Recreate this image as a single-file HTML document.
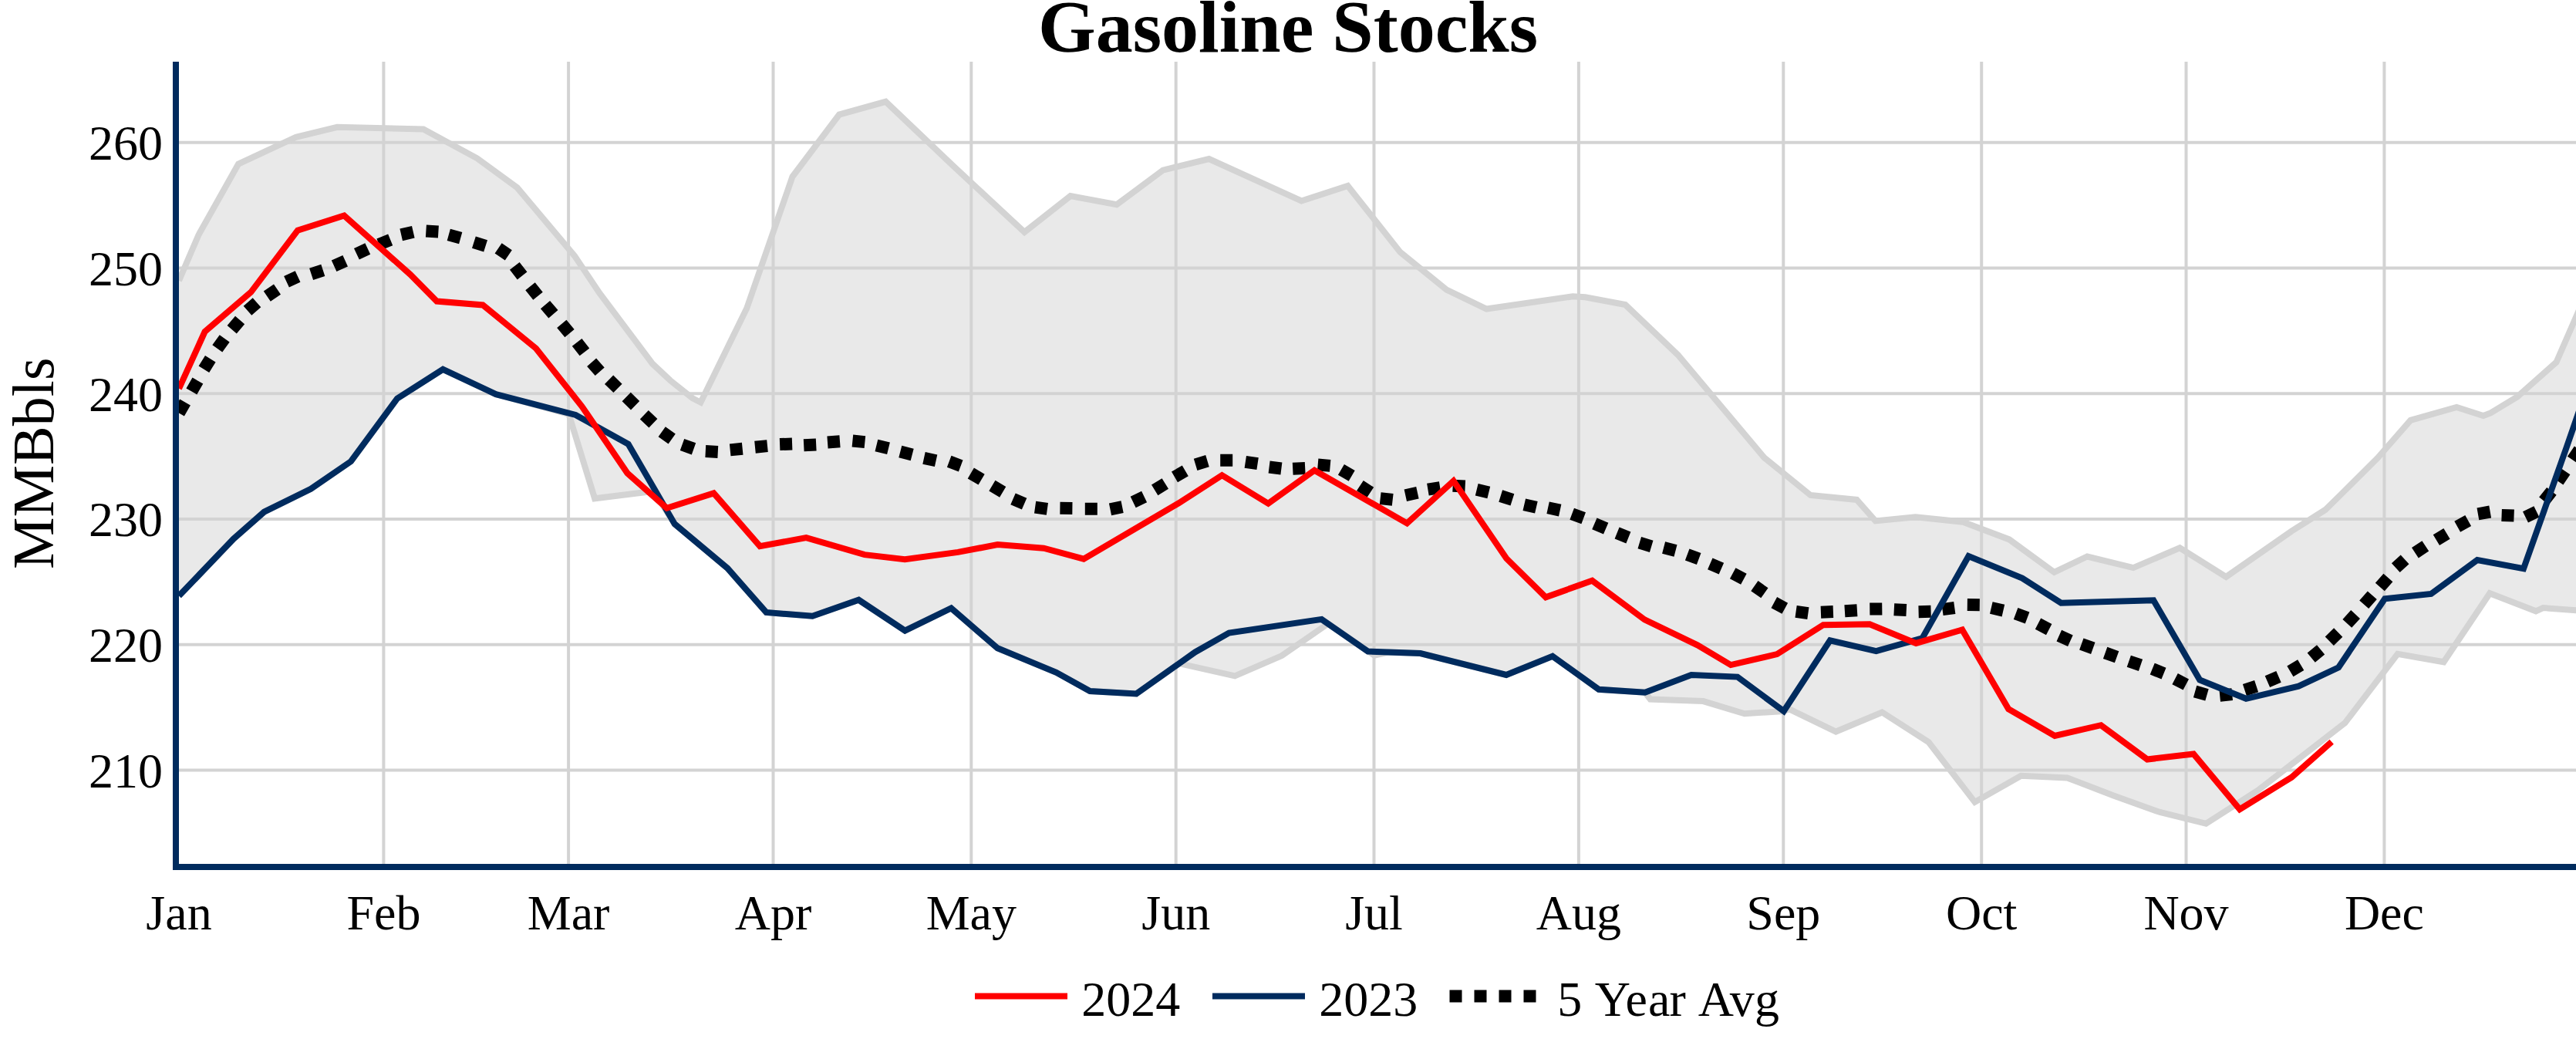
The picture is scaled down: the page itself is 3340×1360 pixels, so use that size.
<!DOCTYPE html>
<html lang="en"><head><meta charset="utf-8"><title>Gasoline Stocks</title>
<style>html,body{margin:0;padding:0;background:#fff;}svg{display:block;}text{font-kerning:none;font-family:"Liberation Serif","Times New Roman",Times,serif;fill:#000;}</style></head><body>
<svg width="3340" height="1360" viewBox="0 0 3340 1360">
<rect x="0" y="0" width="3340" height="1360" fill="#fff"/>
<defs><clipPath id="plot"><rect x="232" y="80" width="3108" height="1040"/></clipPath></defs>
<g stroke="#D3D3D3" stroke-width="4" fill="none">
<line x1="497.4" y1="80" x2="497.4" y2="1120"/>
<line x1="737.1" y1="80" x2="737.1" y2="1120"/>
<line x1="1002.5" y1="80" x2="1002.5" y2="1120"/>
<line x1="1259.3" y1="80" x2="1259.3" y2="1120"/>
<line x1="1524.7" y1="80" x2="1524.7" y2="1120"/>
<line x1="1781.5" y1="80" x2="1781.5" y2="1120"/>
<line x1="2046.9" y1="80" x2="2046.9" y2="1120"/>
<line x1="2312.3" y1="80" x2="2312.3" y2="1120"/>
<line x1="2569.2" y1="80" x2="2569.2" y2="1120"/>
<line x1="2834.5" y1="80" x2="2834.5" y2="1120"/>
<line x1="3091.4" y1="80" x2="3091.4" y2="1120"/>
<line x1="232" y1="998.4" x2="3340" y2="998.4"/>
<line x1="232" y1="835.7" x2="3340" y2="835.7"/>
<line x1="232" y1="672.9" x2="3340" y2="672.9"/>
<line x1="232" y1="510.2" x2="3340" y2="510.2"/>
<line x1="232" y1="347.4" x2="3340" y2="347.4"/>
<line x1="232" y1="184.7" x2="3340" y2="184.7"/>
</g>
<g clip-path="url(#plot)" fill="none" stroke-linejoin="miter" stroke-miterlimit="4">
<polygon points="232.0,363.9 257.3,304.9 309.1,212.5 383.7,177.8 437.2,164.8 549.0,167.4 618.7,205.3 670.6,243.3 745.1,331.8 777.3,380.0 845.9,471.5 868.8,493.0 897.8,516.2 908.5,521.7 968.2,399.8 1027.5,229.0 1088.1,148.6 1148.4,131.8 1234.9,214.1 1328.3,301.0 1387.9,254.0 1447.9,265.3 1507.9,220.6 1567.6,206.0 1687.5,260.5 1747.5,241.0 1815.5,326.9 1875.5,375.6 1927.4,400.5 2039.2,384.3 2055.4,385.3 2107.3,395.0 2175.5,460.0 2287.5,593.4 2347.5,642.0 2407.4,647.9 2431.7,675.4 2483.6,670.2 2545.2,676.7 2605.2,699.4 2663.5,741.9 2706.3,721.5 2766.0,736.1 2826.3,710.3 2886.3,747.9 2971.2,688.6 3014.9,661.0 3036.3,640.0 3082.5,594.1 3125.5,544.8 3185.2,528.0 3219.8,539.1 3229.3,535.4 3263.9,514.4 3314.5,469.5 3340.0,411.0 3380.0,320.0 3380.0,794.0 3340.0,791.2 3297.4,788.1 3288.0,792.3 3228.2,769.2 3168.5,858.3 3108.7,847.9 3040.5,937.2 2927.6,1024.7 2860.3,1067.8 2800.5,1053.0 2740.4,1031.4 2680.4,1008.4 2620.4,1005.8 2560.5,1039.9 2500.5,962.1 2440.3,923.5 2380.4,948.5 2320.0,919.3 2312.8,922.0 2261.9,925.3 2208.4,909.1 2139.7,906.5 2132.9,897.7 2072.9,893.8 2013.0,850.8 1953.0,875.0 1841.7,847.0 1800.0,845.5 1782.0,849.8 1722.0,808.5 1662.0,850.1 1601.1,876.3 1529.0,860.2 1473.3,899.5 1413.2,896.1 1369.5,871.8 1293.3,840.3 1233.3,788.5 1173.4,817.6 1113.4,777.8 1053.4,798.8 993.5,794.0 943.2,736.6 874.8,679.4 858.0,653.0 842.0,637.5 771.1,646.3 737.5,537.0 643.0,511.1 574.3,478.8 515.0,516.7 455.0,598.2 403.1,633.9 342.5,663.7 302.7,698.7 232.0,772.6" fill="#D3D3D3" fill-opacity="0.5" stroke="none"/>
<polyline points="232.0,772.6 302.7,698.7 342.5,663.7 403.1,633.9 455.0,598.2 515.0,516.7 574.3,478.8 643.0,511.1 737.5,537.0 771.1,646.3 842.0,637.5 858.0,653.0 874.8,679.4 943.2,736.6 993.5,794.0 1053.4,798.8 1113.4,777.8 1173.4,817.6 1233.3,788.5 1293.3,840.3 1369.5,871.8 1413.2,896.1 1473.3,899.5 1529.0,860.2 1601.1,876.3 1662.0,850.1 1722.0,808.5 1782.0,849.8 1800.0,845.5 1841.7,847.0 1953.0,875.0 2013.0,850.8 2072.9,893.8 2132.9,897.7 2139.7,906.5 2208.4,909.1 2261.9,925.3 2312.8,922.0 2320.0,919.3 2380.4,948.5 2440.3,923.5 2500.5,962.1 2560.5,1039.9 2620.4,1005.8 2680.4,1008.4 2740.4,1031.4 2800.5,1053.0 2860.3,1067.8 2927.6,1024.7 3040.5,937.2 3108.7,847.9 3168.5,858.3 3228.2,769.2 3288.0,792.3 3297.4,788.1 3340.0,791.2 3380.0,794.0" stroke="#D3D3D3" stroke-width="8"/>
<polyline points="232.0,363.9 257.3,304.9 309.1,212.5 383.7,177.8 437.2,164.8 549.0,167.4 618.7,205.3 670.6,243.3 745.1,331.8 777.3,380.0 845.9,471.5 868.8,493.0 897.8,516.2 908.5,521.7 968.2,399.8 1027.5,229.0 1088.1,148.6 1148.4,131.8 1234.9,214.1 1328.3,301.0 1387.9,254.0 1447.9,265.3 1507.9,220.6 1567.6,206.0 1687.5,260.5 1747.5,241.0 1815.5,326.9 1875.5,375.6 1927.4,400.5 2039.2,384.3 2055.4,385.3 2107.3,395.0 2175.5,460.0 2287.5,593.4 2347.5,642.0 2407.4,647.9 2431.7,675.4 2483.6,670.2 2545.2,676.7 2605.2,699.4 2663.5,741.9 2706.3,721.5 2766.0,736.1 2826.3,710.3 2886.3,747.9 2971.2,688.6 3014.9,661.0 3036.3,640.0 3082.5,594.1 3125.5,544.8 3185.2,528.0 3219.8,539.1 3229.3,535.4 3263.9,514.4 3314.5,469.5 3340.0,411.0 3380.0,320.0" stroke="#D3D3D3" stroke-width="8"/>
<path d="M232.0 535.4L240.0 521.6M248.4 507.4L256.4 493.6M264.4 478.8L272.8 465.2M281.8 451.9L291.2 438.9M300.7 427.2L311.1 415.0M321.0 402.8L333.0 392.2M346.3 384.2L359.5 375.2M371.5 365.3L386.1 358.5M403.6 355.3L418.8 350.3M433.1 344.8L447.7 338.2M462.4 329.3L476.8 322.5M491.4 316.9L506.2 310.9M520.2 304.4L535.8 300.8M552.4 299.5L568.4 300.5M581.8 304.4L597.2 308.6M614.4 314.1L629.6 318.9M646.1 321.8L659.3 330.8M667.3 344.9L677.1 357.5M687.5 371.3L697.5 383.7M707.0 395.1L717.4 407.3M728.3 419.9L738.5 432.1M748.1 443.8L757.9 456.4M767.1 469.8L777.7 481.8M789.6 492.2L801.0 503.4M812.2 514.5L823.6 525.7M835.3 537.8L846.9 548.8M858.2 559.8L871.2 569.0M884.5 576.5L899.5 581.9M914.8 585.1L930.8 585.9M946.7 583.4L962.7 581.8M979.0 579.7L995.0 578.1M1011.1 576.1L1027.1 575.5M1042.2 577.2L1058.2 576.4M1073.0 573.5L1089.0 572.3M1105.4 571.5L1121.4 573.1M1136.4 577.5L1152.0 581.3M1167.3 585.5L1182.7 589.5M1198.0 593.9L1213.6 597.3M1230.7 598.3L1245.7 603.9M1258.8 613.5L1272.6 621.7M1286.4 629.7L1300.2 637.9M1313.5 646.8L1328.1 653.2M1342.1 657.7L1357.9 659.9M1374.4 658.7L1390.4 658.9M1406.8 659.8L1422.8 659.8M1439.5 660.4L1455.1 657.2M1469.2 651.0L1483.6 644.0M1497.2 635.4L1510.8 627.0M1523.0 618.4L1536.8 610.4M1550.1 602.3L1565.5 597.7M1582.2 596.7L1598.2 596.7M1614.8 598.8L1630.6 601.2M1645.6 605.5L1661.4 607.5M1676.2 607.8L1692.2 607.0M1708.7 602.5L1724.7 603.9M1738.9 608.9L1752.7 616.9M1763.4 629.6L1776.8 638.4M1789.7 646.1L1805.7 647.9M1822.3 642.2L1837.9 638.8M1851.4 634.7L1867.2 632.1M1883.7 629.7L1899.7 630.5M1914.7 634.7L1930.3 638.5M1945.7 643.0L1960.9 647.8M1976.3 654.2L1991.9 657.8M2007.1 658.2L2022.7 661.6M2038.2 666.2L2053.2 671.8M2067.4 678.8L2082.2 685.2M2096.6 691.0L2111.4 697.0M2125.8 703.7L2141.2 708.3M2157.1 710.0L2172.5 714.0M2187.7 719.0L2202.7 724.6M2217.3 730.8L2231.9 737.2M2246.7 743.2L2260.9 750.8M2274.9 759.6L2287.9 768.8M2300.3 781.1L2314.3 788.7M2328.6 792.9L2344.4 795.1M2360.9 793.7L2376.9 793.1M2391.9 792.3L2407.9 791.3M2424.3 789.6L2440.3 789.4M2455.8 790.3L2471.8 791.1M2487.6 793.2L2503.6 792.8M2518.5 790.2L2534.3 788.0M2550.8 784.1L2566.8 784.3M2581.8 788.0L2597.4 791.6M2613.6 795.4L2628.6 801.0M2642.5 808.7L2656.7 816.1M2669.8 824.1L2684.4 830.7M2698.8 835.0L2713.8 840.4M2729.6 846.4L2744.6 851.8M2760.3 857.2L2775.5 862.4M2790.7 867.1L2805.5 873.1M2820.1 880.1L2834.3 887.5M2846.1 896.5L2861.5 900.9M2878.2 901.7L2894.2 900.1M2910.4 894.7L2925.6 889.7M2939.9 883.7L2954.5 877.3M2969.4 870.4L2983.2 862.2M2996.7 852.6L3009.1 842.4M3020.3 831.2L3031.7 820.0M3043.3 808.3L3054.1 796.5M3065.2 783.7L3075.8 771.7M3085.8 761.0L3096.4 749.0M3106.3 736.1L3118.1 725.3M3131.4 716.7L3144.8 707.9M3158.9 700.1L3172.5 691.9M3186.2 682.8L3200.2 675.0M3212.9 666.3L3228.7 663.5M3243.6 667.9L3259.6 668.5M3274.5 670.4L3288.9 663.4M3298.4 649.5L3308.4 636.9M3316.8 623.9L3325.8 610.7M3335.5 596.3L3344.5 583.1M3355.5 566.5L3364.5 553.2M3375.5 536.6L3384.5 523.4" stroke="#000" stroke-width="16"/>
<polyline points="232.0,772.6 302.7,698.7 342.5,663.7 403.1,633.9 455.0,598.2 515.0,516.7 574.3,478.8 643.0,511.1 746.3,538.0 814.6,575.8 874.8,679.4 943.2,736.6 993.5,794.0 1053.4,798.8 1113.4,777.8 1173.4,817.6 1233.3,788.5 1293.3,840.3 1369.5,871.8 1413.2,896.1 1473.3,899.5 1549.6,845.4 1593.5,820.6 1713.6,802.9 1773.6,844.5 1841.7,847.0 1953.0,875.0 2013.0,850.8 2072.9,893.8 2132.9,897.7 2192.9,875.0 2252.8,877.6 2312.8,922.0 2372.8,830.3 2432.6,844.2 2492.4,827.4 2552.4,721.0 2622.0,749.6 2672.3,781.7 2792.2,778.2 2852.2,881.5 2912.2,905.8 2980.3,889.6 3032.1,865.3 3092.1,776.3 3152.1,770.0 3212.0,726.0 3272.0,737.3 3327.7,580.0 3392.0,394.0" stroke="#002B5E" stroke-width="8"/>
<polyline points="232.0,503.8 265.6,430.0 325.3,378.8 386.0,298.7 446.2,279.4 531.8,355.7 566.3,390.6 626.0,395.4 695.0,451.7 754.6,527.0 813.5,613.5 864.5,658.8 925.4,639.4 985.3,708.1 1045.3,697.1 1121.0,719.1 1173.2,725.2 1242.1,715.9 1293.4,706.1 1353.3,710.7 1405.1,724.6 1528.3,652.3 1584.4,616.2 1644.4,652.8 1704.3,609.7 1824.3,678.4 1884.6,623.6 1953.2,724.0 2004.2,774.3 2064.4,752.8 2132.4,803.4 2200.8,836.4 2244.1,862.1 2304.1,848.1 2364.0,810.2 2424.2,809.2 2484.3,833.9 2544.2,816.5 2604.2,919.2 2664.2,953.9 2724.1,940.2 2784.1,984.5 2844.1,977.5 2904.0,1049.2 2971.3,1007.7 3023.2,961.8" stroke="#FF0000" stroke-width="8"/>
</g>
<rect x="224" y="80" width="8" height="1048" fill="#002B5E"/>
<rect x="224" y="1120" width="3116" height="8" fill="#002B5E"/>
<text x="1670" y="66.8" font-size="96" font-weight="bold" text-anchor="middle">Gasoline Stocks</text>
<text x="211" y="1020.8" font-size="64" text-anchor="end">210</text>
<text x="211" y="858.1" font-size="64" text-anchor="end">220</text>
<text x="211" y="695.3" font-size="64" text-anchor="end">230</text>
<text x="211" y="532.6" font-size="64" text-anchor="end">240</text>
<text x="211" y="369.8" font-size="64" text-anchor="end">250</text>
<text x="211" y="207.1" font-size="64" text-anchor="end">260</text>
<text x="232.0" y="1205" font-size="64" text-anchor="middle">Jan</text>
<text x="497.4" y="1205" font-size="64" text-anchor="middle">Feb</text>
<text x="737.1" y="1205" font-size="64" text-anchor="middle">Mar</text>
<text x="1002.5" y="1205" font-size="64" text-anchor="middle">Apr</text>
<text x="1259.3" y="1205" font-size="64" text-anchor="middle">May</text>
<text x="1524.7" y="1205" font-size="64" text-anchor="middle">Jun</text>
<text x="1781.5" y="1205" font-size="64" text-anchor="middle">Jul</text>
<text x="2046.9" y="1205" font-size="64" text-anchor="middle">Aug</text>
<text x="2312.3" y="1205" font-size="64" text-anchor="middle">Sep</text>
<text x="2569.2" y="1205" font-size="64" text-anchor="middle">Oct</text>
<text x="2834.5" y="1205" font-size="64" text-anchor="middle">Nov</text>
<text x="3091.4" y="1205" font-size="64" text-anchor="middle">Dec</text>
<text transform="translate(68.7,600.8) rotate(-90)" font-size="76" text-anchor="middle">MMBbls</text>
<line x1="1264" y1="1291.5" x2="1384" y2="1291.5" stroke="#FF0000" stroke-width="8"/>
<text x="1402.3" y="1317" font-size="64">2024</text>
<line x1="1572" y1="1291.5" x2="1692" y2="1291.5" stroke="#002B5E" stroke-width="8"/>
<text x="1710.3" y="1317" font-size="64">2023</text>
<line x1="1879.5" y1="1291.5" x2="1999.5" y2="1291.5" stroke="#000" stroke-width="16" stroke-dasharray="16 16"/>
<text x="2019.3 2051.3 2067.7 2107.6 2137.1 2164.6 2185.3 2201.8 2242.7 2275.1" y="1317" font-size="64">5 Year Avg</text>
</svg></body></html>
